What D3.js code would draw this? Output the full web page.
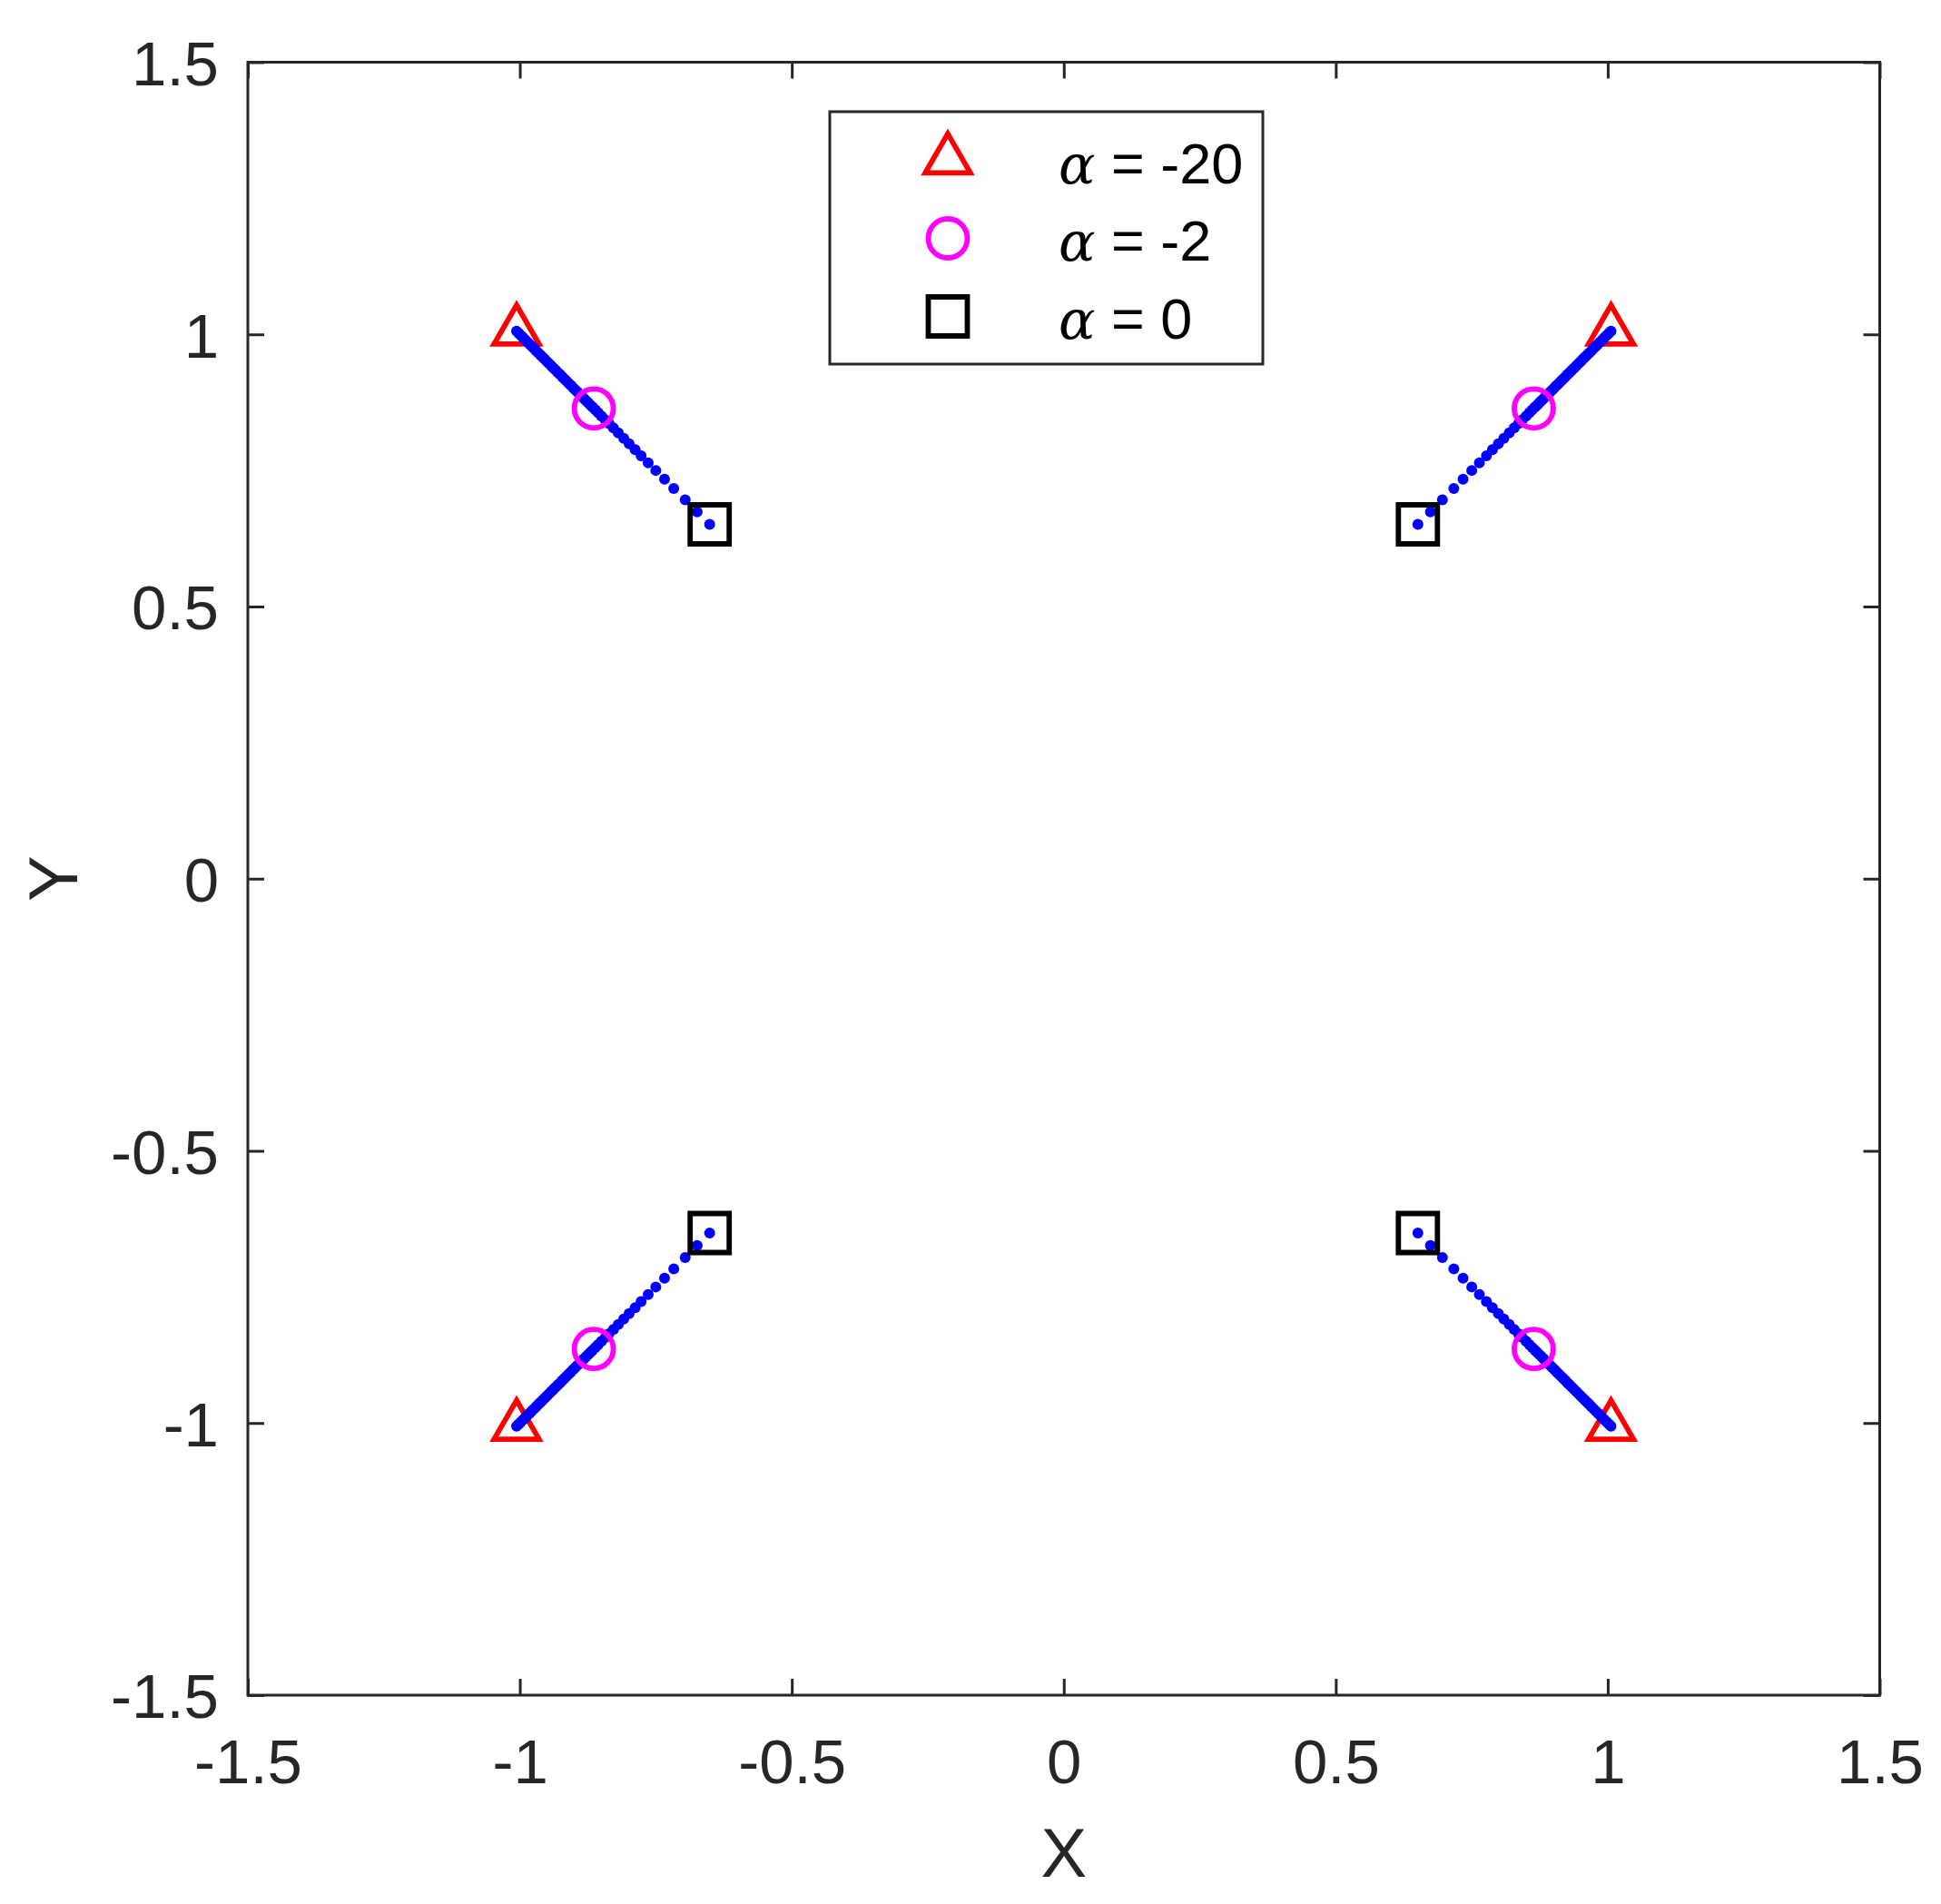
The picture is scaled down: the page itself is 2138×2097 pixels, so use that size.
<!DOCTYPE html>
<html>
<head>
<meta charset="utf-8">
<script src="https://cdn.jsdelivr.net/npm/d3@7"></script>
<style>
  html, body { margin: 0; padding: 0; background: #fff; }
  svg { display: block; }
</style>
</head>
<body>
<svg id="chart" width="2138" height="2097"></svg>
<script>
// ---------------- data ----------------
// distance |x| = |y| of each blue trajectory point
const trajR = [0.651, 0.674, 0.696, 0.717, 0.734, 0.750, 0.764, 0.777, 0.788, 0.799,
  0.809, 0.819, 0.828, 0.836, 0.843, 0.850, 0.856, 0.861, 0.866, 0.870,
  0.874, 0.878, 0.882, 0.886, 0.890, 0.894, 0.898, 0.902, 0.906, 0.910,
  0.914, 0.918, 0.922, 0.926, 0.930, 0.934, 0.938, 0.942, 0.946, 0.950,
  0.954, 0.958, 0.962, 0.966, 0.970, 0.974, 0.978, 0.982, 0.986, 0.990,
  0.994, 0.998, 1.002, 1.006];
// quadrant signs of the four symmetric trajectories
const quadX = [1, -1, -1, 1];
const quadY = [1, 1, -1, -1];
// marked alpha values and their positions
const alphaValues = [-20, -2, 0];
const alphaR = [1.006, 0.864, 0.651];
const markerShapes = ["triangle", "circle", "square"];
const markerColors = ["#ff0000", "#ff00ff", "#000000"];
// ticks
const xTicks = [-1.5, -1, -0.5, 0, 0.5, 1, 1.5];
const yTicks = [-1.5, -1, -0.5, 0, 0.5, 1, 1.5];
const xTickLabels = ["-1.5", "-1", "-0.5", "0", "0.5", "1", "1.5"];
const yTickLabels = ["-1.5", "-1", "-0.5", "0", "0.5", "1", "1.5"];

// ---------------- layout ----------------
const L = 273, R = 2070.5, T = 68.5, B = 1867;
const axisColor = "#262626";
const font = "'Liberation Sans', Arial, Helvetica, sans-serif";
const svg = d3.select("#chart");

const x = d3.scaleLinear().domain([-1.5, 1.5]).range([L, R]);
const y = d3.scaleLinear().domain([-1.5, 1.5]).range([B, T]);

function styleAxis(g) {
  g.select(".domain").remove();
  g.selectAll(".tick line").attr("stroke", axisColor).attr("stroke-width", 3);
  g.selectAll(".tick text").attr("fill", axisColor).style("font-family", font).style("font-size", "69px");
}
const tickLen = 18;
svg.append("g").attr("transform", `translate(0,${B})`)
  .call(d3.axisBottom(x).tickValues(xTicks).tickSizeInner(-tickLen).tickSizeOuter(0).tickPadding(48)
    .tickFormat((d, i) => xTickLabels[i]))
  .call(styleAxis);
svg.append("g").attr("transform", `translate(0,${T})`)
  .call(d3.axisTop(x).tickValues(xTicks).tickSizeInner(-tickLen).tickSizeOuter(0).tickFormat(""))
  .call(styleAxis);
svg.append("g").attr("transform", `translate(${L},0)`)
  .call(d3.axisLeft(y).tickValues(yTicks).tickSizeInner(-tickLen).tickSizeOuter(0).tickPadding(32)
    .tickFormat((d, i) => yTickLabels[i]))
  .call(styleAxis)
  .selectAll(".tick text").attr("dy", "0.36em");
svg.append("g").attr("transform", `translate(${R},0)`)
  .call(d3.axisRight(y).tickValues(yTicks).tickSizeInner(-tickLen).tickSizeOuter(0).tickFormat(""))
  .call(styleAxis);

svg.append("rect").attr("x", L).attr("y", T).attr("width", R - L).attr("height", B - T)
  .attr("fill", "none").attr("stroke", axisColor).attr("stroke-width", 3);

svg.append("text").attr("x", (L + R) / 2).attr("y", 2067).attr("text-anchor", "middle")
  .attr("fill", axisColor).style("font-family", font).style("font-size", "76px").text("X");
svg.append("text").attr("transform", `translate(85,${(T + B) / 2}) rotate(-90)`).attr("text-anchor", "middle")
  .attr("fill", axisColor).style("font-family", font).style("font-size", "76px").text("Y");

// ---------------- marks ----------------
const sw = 5.8;
const symbolGen = {
  triangle: d3.symbol(d3.symbolTriangle, 3 * Math.sqrt(3) * 14.3 * 14.3),
  circle: d3.symbol(d3.symbolCircle, Math.PI * 21.5 * 21.5),
  square: d3.symbol(d3.symbolSquare, 43 * 43)
};
const plot = svg.append("g");

function drawMarker(g, k, px, py) {
  g.append("path").attr("d", symbolGen[markerShapes[k]]())
    .attr("transform", `translate(${px},${py})`)
    .attr("fill", "none").attr("stroke", markerColors[k]).attr("stroke-width", sw)
    .attr("stroke-linejoin", "miter");
}

quadX.forEach((sx, q) => drawMarker(plot, 0, x(sx * alphaR[0]), y(quadY[q] * alphaR[0])));
quadX.forEach((sx, q) => {
  plot.append("g").selectAll("circle").data(trajR).join("circle")
    .attr("cx", d => x(sx * d)).attr("cy", d => y(quadY[q] * d))
    .attr("r", 6).attr("fill", "#0000ff");
});
quadX.forEach((sx, q) => {
  drawMarker(plot, 1, x(sx * alphaR[1]), y(quadY[q] * alphaR[1]));
  drawMarker(plot, 2, x(sx * alphaR[2]), y(quadY[q] * alphaR[2]));
});

// ---------------- legend ----------------
const lg = svg.append("g");
lg.append("rect").attr("x", 914).attr("y", 123).attr("width", 477).attr("height", 278)
  .attr("fill", "#fff").attr("stroke", axisColor).attr("stroke-width", 3);
const rowY = [176, 262.5, 348.5];
const baseY = [202, 287, 373];
alphaValues.forEach((a, k) => {
  drawMarker(lg, k, 1044, rowY[k]);
  const t = lg.append("text").attr("x", 1166).attr("y", baseY[k]).attr("fill", "#000")
    .style("font-family", font).style("font-size", "63px");
  t.append("tspan").style("font-family", "'DejaVu Serif', 'Liberation Serif', serif")
    .style("font-style", "italic").style("font-size", "60px").text("α");
  t.append("tspan").text(" = " + a);
});
</script>
</body>
</html>
